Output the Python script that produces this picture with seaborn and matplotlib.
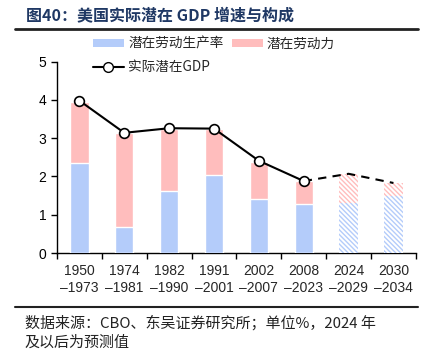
import seaborn as sns
import pandas as pd
import matplotlib.pyplot as plt
import numpy as np
from matplotlib.patches import Patch
from matplotlib.lines import Line2D

sns.set_theme(style='white')
plt.rcParams['font.family'] = ['Liberation Sans', 'Noto Sans CJK SC', 'DejaVu Sans']
plt.rcParams['hatch.linewidth'] = 1.0

periods = ['1950\n–1973', '1974\n–1981', '1982\n–1990', '1991\n–2001',
           '2002\n–2007', '2008\n–2023', '2024\n–2029', '2030\n–2034']
productivity = [2.35, 0.69, 1.61, 2.04, 1.40, 1.29, 1.32, 1.50]
labor_force = [1.60, 2.45, 1.63, 1.20, 0.99, 0.58, 0.75, 0.34]
potential_gdp = [3.98, 3.14, 3.26, 3.25, 2.41, 1.88, 2.07, 1.83]
forecast = [False, False, False, False, False, False, True, True]

blue = '#B4CCFA'
pink = '#FFBDBD'
cjk = ['Noto Sans CJK SC', 'DejaVu Sans']

df = pd.DataFrame({'period': periods, 'prod': productivity, 'labor': labor_force,
                   'gdp': potential_gdp, 'forecast': forecast})
df['total'] = df['prod'] + df['labor']

fig = plt.figure(figsize=(4.35, 3.5), dpi=100)
ax = fig.add_axes([0.131, 0.277, 0.825, 0.547])

# stacked bars: draw totals first, then productivity on top
sns.barplot(data=df, x='period', y='total', color=pink, width=0.41,
            saturation=1, ax=ax, zorder=2)
sns.barplot(data=df, x='period', y='prod', color=blue, width=0.41,
            saturation=1, ax=ax, zorder=3)

n = len(df)
for i, p in enumerate(ax.patches):
    idx = i % n
    if df['forecast'][idx]:
        col = p.get_facecolor()
        p.set_facecolor('white')
        p.set_edgecolor(col)
        p.set_hatch('\\' * 7)
        p.set_linewidth(0)

hist = df[~df['forecast']]
xs = np.arange(n)
ax.plot(xs[:len(hist)], hist['gdp'], color='black', lw=1.5, marker='o',
        markersize=7, markerfacecolor='white', markeredgecolor='black',
        markeredgewidth=1.2, zorder=5)
last = len(hist) - 1
ax.plot(xs[last:], df['gdp'][last:], color='black', lw=1.5, ls=(0, (4, 3)), zorder=4)

ax.set_xlim(-0.5, n - 0.5)
ax.set_ylim(0, 5)
ax.set_yticks(range(6))
ax.set_xticks(np.arange(n + 1) - 0.5, minor=False)
ax.set_xticklabels([])
for i, lab in enumerate(periods):
    ax.text(i, -0.28, lab, ha='center', va='top', fontsize=10,
            linespacing=1.25, transform=ax.transData)
ax.set_xlabel('')
ax.set_ylabel('')
ax.tick_params(axis='both', direction='out', length=4, width=1, color='black',
               labelsize=10, labelcolor='black', bottom=True, left=True)
for side in ['top', 'right']:
    ax.spines[side].set_visible(False)
for side in ['left', 'bottom']:
    ax.spines[side].set_color('black')
    ax.spines[side].set_linewidth(1)

handles = [Patch(facecolor=blue, edgecolor='none'),
           Line2D([], [], color='black', lw=1.5, marker='o', markersize=7,
                  markerfacecolor='white', markeredgecolor='black'),
           Patch(facecolor=pink, edgecolor='none')]
labels = ['潜在劳动生产率', '实际潜在GDP', '潜在劳动力']
fig.legend(handles, labels, ncol=2, loc='upper left', bbox_to_anchor=(0.213, 0.895),
           frameon=False, prop={'family': cjk, 'size': 9.8}, handlelength=2.3,
           handleheight=0.6, columnspacing=0.6, handletextpad=0.3, labelspacing=0.7,
           borderaxespad=0, borderpad=0)

fig.text(0.06, 0.955, '图40：美国实际潜在 GDP 增速与构成', fontsize=11.5,
         fontweight='bold', color='#1F3864', family=cjk, va='center')
fig.add_artist(Line2D([0.034, 0.96], [0.918, 0.918], color='#222222', lw=2))
fig.add_artist(Line2D([0.034, 0.96], [0.123, 0.123], color='#222222', lw=1.5))
fig.text(0.057, 0.078, '数据来源：CBO、东吴证券研究所；单位%，2024 年', fontsize=10.8,
         family=cjk, va='center', color='#222222')
fig.text(0.057, 0.02, '及以后为预测值', fontsize=10.8, family=cjk, va='center', color='#222222')

fig.savefig('out.png', dpi=100)
